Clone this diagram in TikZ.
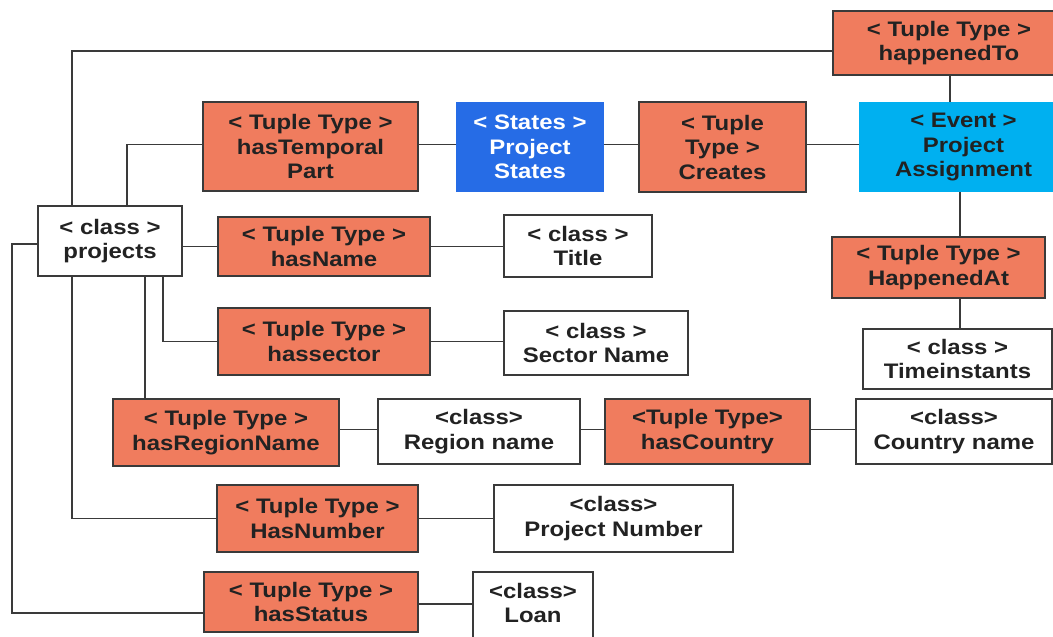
\documentclass[tikz,border=0pt]{standalone}
\usepackage{fontspec}
\setmainfont{Liberation Sans}[FakeStretch=1.14]
\usetikzlibrary{calc}
\definecolor{tupleorange}{RGB}{240,124,94}
\definecolor{statesblue}{RGB}{38,108,230}
\definecolor{eventcyan}{RGB}{0,176,240}
\definecolor{linegray}{RGB}{58,58,58}
\definecolor{inkdark}{RGB}{34,34,34}
\begin{document}
\begin{tikzpicture}[x=1pt,y=-1pt,
  box/.style={rectangle, inner sep=0pt, outer sep=0pt, align=center,
    draw=linegray, line width=1.3pt, text=inkdark,
    font=\fontsize{21}{24.5}\selectfont\bfseries},
  tuplebox/.style={box, fill=tupleorange},
  classbox/.style={box, fill=white},
  statesbox/.style={box, draw=none, fill=statesblue, text=white},
  eventbox/.style={box, draw=none, fill=eventcyan},
  link/.style={draw=linegray, line width=1.3pt}]
% page frame
\useasboundingbox (0,0) rectangle (1053,637);
\clip (0,0) rectangle (1053,637);
\fill[white] (0,0) rectangle (1053,637);

% helper: a box given by its corners (x1,y1)-(x2,y2)
\newcommand{\boxat}[7]{%
  \node[#1, minimum width={#5-#3}, minimum height={#6-#4}]
    (#2) at ({(#3+#5)/2},{(#4+#6)/2}) {#7};}

% top row
\boxat{tuplebox}{happenedTo}{833}{11}{1065}{75}{< Tuple Type >\\happenedTo}
\boxat{tuplebox}{temporal}{203}{102}{418}{191}{< Tuple Type >\\hasTemporal\\Part}
\boxat{statesbox}{states}{456}{102}{604}{192}{< States >\\Project\\States}
\boxat{tuplebox}{creates}{639}{102}{806}{192}{< Tuple\\Type >\\Creates}
\boxat{eventbox}{event}{859}{102}{1068}{192}{< Event >\\Project\\Assignment}

% projects and its attributes
\boxat{classbox}{projects}{38}{206}{182}{276}{< class >\\projects}
\boxat{tuplebox}{hasName}{218}{217}{430}{276}{< Tuple Type >\\hasName}
\boxat{classbox}{title}{504}{215}{652}{277}{< class >\\Title}
\boxat{tuplebox}{happenedAt}{832}{237}{1045}{298}{< Tuple Type >\\HappenedAt}
\boxat{tuplebox}{hassector}{218}{308}{430}{375}{< Tuple Type >\\hassector}
\boxat{classbox}{sector}{504}{311}{688}{375}{< class >\\Sector Name}
\boxat{classbox}{time}{863}{329}{1052}{389}{< class >\\Timeinstants}
\boxat{tuplebox}{region}{113}{399}{339}{466}{< Tuple Type >\\hasRegionName}
\boxat{classbox}{regionName}{378}{399}{580}{464}{<class>\\Region name}
\boxat{tuplebox}{country}{605}{399}{810}{464}{<Tuple Type>\\hasCountry}
\boxat{classbox}{countryName}{856}{399}{1052}{464}{<class>\\Country name}
\boxat{tuplebox}{number}{217}{485}{418}{552}{< Tuple Type >\\HasNumber}
\boxat{classbox}{projNumber}{494}{485}{733}{552}{<class>\\Project Number}
\boxat{tuplebox}{status}{204}{572}{418}{632}{< Tuple Type >\\hasStatus}
% the Loan box runs on past the lower page edge
\node[classbox, minimum width=120, minimum height=90, anchor=north west] (loan) at (473,572) {};
\node[box, draw=none, anchor=north] (loanText) at (loan.north) [yshift=-11pt] {<class>\\Loan};

% connectors
\draw[link] ([xshift=34pt]projects.north west) |- ([yshift=-8pt]happenedTo.west);
\draw[link] ([xshift=89pt]projects.north west) |- ([yshift=2pt]temporal.west);
\draw[link] ([yshift=2pt]temporal.east) -- ([yshift=2pt]temporal.east -| states.west);
\draw[link] ([yshift=2pt]temporal.east -| states.east) -- ([yshift=2pt]temporal.east -| creates.west);
\draw[link] ([yshift=2pt]temporal.east -| creates.east) -- ([yshift=2pt]temporal.east -| event.west);
\draw[link] ([xshift=1pt]happenedTo.south) -- ([xshift=1pt]happenedTo.south |- event.north);
\draw[link] ([xshift=-3.5pt]event.south) -- ([xshift=-3.5pt]event.south |- happenedAt.north);
\draw[link] ([xshift=21.5pt]happenedAt.south) -- ([xshift=21.5pt]happenedAt.south |- time.north);
\draw[link] (projects.east |- hasName.west) -- (hasName.west);
\draw[link] (hasName.east) -- (hasName.east -| title.west);
\draw[link] ([xshift=125pt]projects.south west) |- (hassector.west);
\draw[link] (hassector.east) -- (hassector.east -| sector.west);
\draw[link] ([xshift=107pt]projects.south west) -- ([xshift=107pt]projects.south west |- region.north);
\draw[link] ([yshift=2pt]regionName.west -| region.east) -- ([yshift=2pt]regionName.west);
\draw[link] ([yshift=2pt]regionName.east) -- ([yshift=2pt]regionName.east -| country.west);
\draw[link] ([yshift=2pt]country.east) -- ([yshift=2pt]country.east -| countryName.west);
\draw[link] ([xshift=34pt]projects.south west) |- (number.west);
\draw[link] (number.east) -- (number.east -| projNumber.west);
\draw[link] ([yshift=-3pt]projects.west) -- ++(-26,0) |- ([yshift=-11pt]status.west);
\draw[link] ([yshift=-2pt]status.east) -- ([yshift=-2pt]status.east -| loan.west);
\end{tikzpicture}
\end{document}
